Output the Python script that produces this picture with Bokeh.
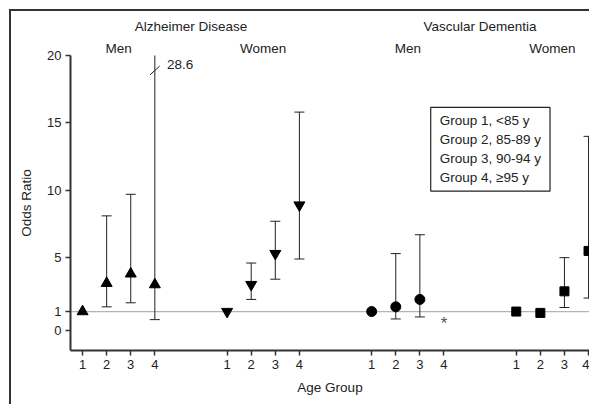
import math
from bokeh.plotting import figure
from bokeh.models import FixedTicker, Span, Label, LinearAxis
from bokeh.embed import file_html
from bokeh.resources import INLINE

nan = float("nan")

# ---------------- data ----------------
age_group_labels = ["1", "2", "3", "4"]
panel_titles = ["Alzheimer Disease", "Vascular Dementia"]
sex_titles = ["Men", "Women"]
legend_lines = ["Group 1, <85 y", "Group 2, 85-89 y", "Group 3, 90-94 y", "Group 4, \u226595 y"]
y_tick_values = [-0.4, 1, 5, 10, 15, 20]
y_tick_labels = ["0", "1", "5", "10", "15", "20"]

# x positions of the four age groups in each panel
ad_men_x = [1, 2, 3, 4]
ad_women_x = [7, 8, 9, 10]
vd_men_x = [13, 14, 15, 16]
vd_women_x = [19, 20, 21, 22]

ad_men_or = [1.0, 3.1, 3.8, 3.0]
ad_men_lo = [nan, 1.35, 1.65, 0.4]
ad_men_hi = [nan, 8.1, 9.7, 28.6]

ad_women_or = [1.0, 3.0, 5.3, 8.9]
ad_women_lo = [nan, 1.9, 3.4, 4.9]
ad_women_hi = [nan, 4.6, 7.7, 15.8]

vd_men_or = [1.0, 1.35, 1.9, nan]
vd_men_lo = [nan, 0.45, 0.6, nan]
vd_men_hi = [nan, 5.3, 6.7, nan]

vd_women_or = [1.0, 0.9, 2.5, 5.5]
vd_women_lo = [nan, nan, 1.3, 2.0]
vd_women_hi = [nan, nan, 5.0, 14.0]

FONT = "Liberation Sans"
INK = "#222222"
Y_MAX = 20

p = figure(width=589, height=404, x_range=(0.5, 22.04), y_range=(-1.89, Y_MAX),
           output_backend="svg", toolbar_location=None,
           min_border_left=70, min_border_right=0, min_border_top=55, min_border_bottom=54)
p.outline_line_color = None
p.xgrid.visible = False
p.ygrid.visible = False
p.border_fill_color = None
p.background_fill_color = "white"
p.styles = {
    "background": "linear-gradient(#333,#333) 9px 9px / 2px calc(100% - 9px) no-repeat, "
                  "linear-gradient(#333,#333) 9px 9px / calc(100% - 9px) 2px no-repeat, #ffffff"
}

# reference line at OR = 1
p.add_layout(Span(location=1, dimension="width", line_color="#b4b4b4", line_width=1.3, level="underlay"))

series = [
    (ad_men_x, ad_men_or, ad_men_lo, ad_men_hi, "triangle", 11),
    (ad_women_x, ad_women_or, ad_women_lo, ad_women_hi, "inverted_triangle", 11),
    (vd_men_x, vd_men_or, vd_men_lo, vd_men_hi, "circle", 10),
    (vd_women_x, vd_women_or, vd_women_lo, vd_women_hi, "square", 9),
]

for xs, ors, los, his, marker, size in series:
    p.segment(x0=xs, y0=los, x1=xs, y1=his, line_color=INK, line_width=1)
    p.scatter(x=xs, y=los, marker="dash", size=10, line_color=INK, line_width=1)
    p.scatter(x=xs, y=his, marker="dash", size=10, line_color=INK, line_width=1)
    p.scatter(x=xs, y=ors, marker=marker, size=size, fill_color="black", line_color="black")

# broken CI beyond the axis top
for xi, hi in zip(ad_men_x, ad_men_hi):
    if hi > Y_MAX:
        p.segment(x0=[xi - 0.2], y0=[18.57], x1=[xi + 0.2], y1=[19.21], line_color=INK, line_width=1)
        p.add_layout(Label(x=xi + 0.5, y=19.35, text=f"{hi:g}", text_font=FONT, text_font_size="13.5px",
                           text_color=INK, text_align="left", text_baseline="middle"))

# missing estimate marker
for xi, v in zip(vd_men_x, vd_men_or):
    if math.isnan(v):
        p.add_layout(Label(x=xi, y=0.1, text="*", text_font=FONT, text_font_size="17px",
                           text_color="#555555", text_align="center", text_baseline="middle"))

# legend box
p.add_layout(Label(x=15.45, y=16.15, text="\n".join(legend_lines), text_font=FONT, text_font_size="13.5px",
                   text_color=INK, text_align="left", text_baseline="top", text_line_height=1.26,
                   border_line_color=INK, border_line_width=1.2, background_fill_color="white",
                   padding=dict(left=9, right=9, top=6, bottom=6)))

# axes
all_x = ad_men_x + ad_women_x + vd_men_x + vd_women_x
p.xaxis.ticker = FixedTicker(ticks=all_x)
p.xaxis.major_label_overrides = {x: age_group_labels[i % 4] for i, x in enumerate(all_x)}
p.yaxis.ticker = FixedTicker(ticks=y_tick_values)
p.yaxis.major_label_overrides = {v: l for v, l in zip(y_tick_values, y_tick_labels)}
p.xaxis.axis_label = "Age Group"
p.yaxis.axis_label = "Odds Ratio"
for ax in (p.xaxis, p.yaxis):
    ax.axis_line_color = "#333333"
    ax.axis_line_width = 2
    ax.major_tick_line_color = "#333333"
    ax.major_tick_line_width = 1.5
    ax.major_tick_out = 5
    ax.major_tick_in = 0
    ax.minor_tick_out = 0
    ax.minor_tick_in = 0
    ax.major_label_text_font = FONT
    ax.major_label_text_font_size = "13px"
    ax.major_label_text_color = INK
    ax.axis_label_text_font = FONT
    ax.axis_label_text_font_size = "13.5px"
    ax.axis_label_text_font_style = "normal"
    ax.axis_label_text_color = INK
p.xaxis.major_label_standoff = 4
p.xaxis.axis_label_standoff = 8
p.yaxis.major_label_standoff = 4
p.yaxis.axis_label_standoff = 10

# header rows (sex, then disease) as label-only axes above the plot
panels = [(ad_men_x, ad_women_x), (vd_men_x, vd_women_x)]
sex_pos, sex_lab, title_pos = [], [], []
for xs_m, xs_w in panels:
    for sex, xs in zip(sex_titles, (xs_m, xs_w)):
        sex_pos.append((xs[0] + xs[-1]) / 2)
        sex_lab.append(sex)
    title_pos.append((xs_m[0] + xs_w[-1]) / 2)


def header_axis(positions, labels, standoff):
    ax = LinearAxis(ticker=FixedTicker(ticks=positions),
                    major_label_overrides={v: l for v, l in zip(positions, labels)})
    ax.axis_line_color = None
    ax.major_tick_line_color = None
    ax.minor_tick_line_color = None
    ax.major_tick_out = 0
    ax.major_tick_in = 0
    ax.minor_tick_out = 0
    ax.minor_tick_in = 0
    ax.major_label_standoff = standoff
    ax.major_label_text_font = FONT
    ax.major_label_text_font_size = "13.5px"
    ax.major_label_text_color = INK
    return ax


p.add_layout(header_axis(sex_pos, sex_lab, 0), "above")
p.add_layout(header_axis(title_pos, panel_titles, 4), "above")

open("out.html", "w").write(file_html(p, INLINE))
